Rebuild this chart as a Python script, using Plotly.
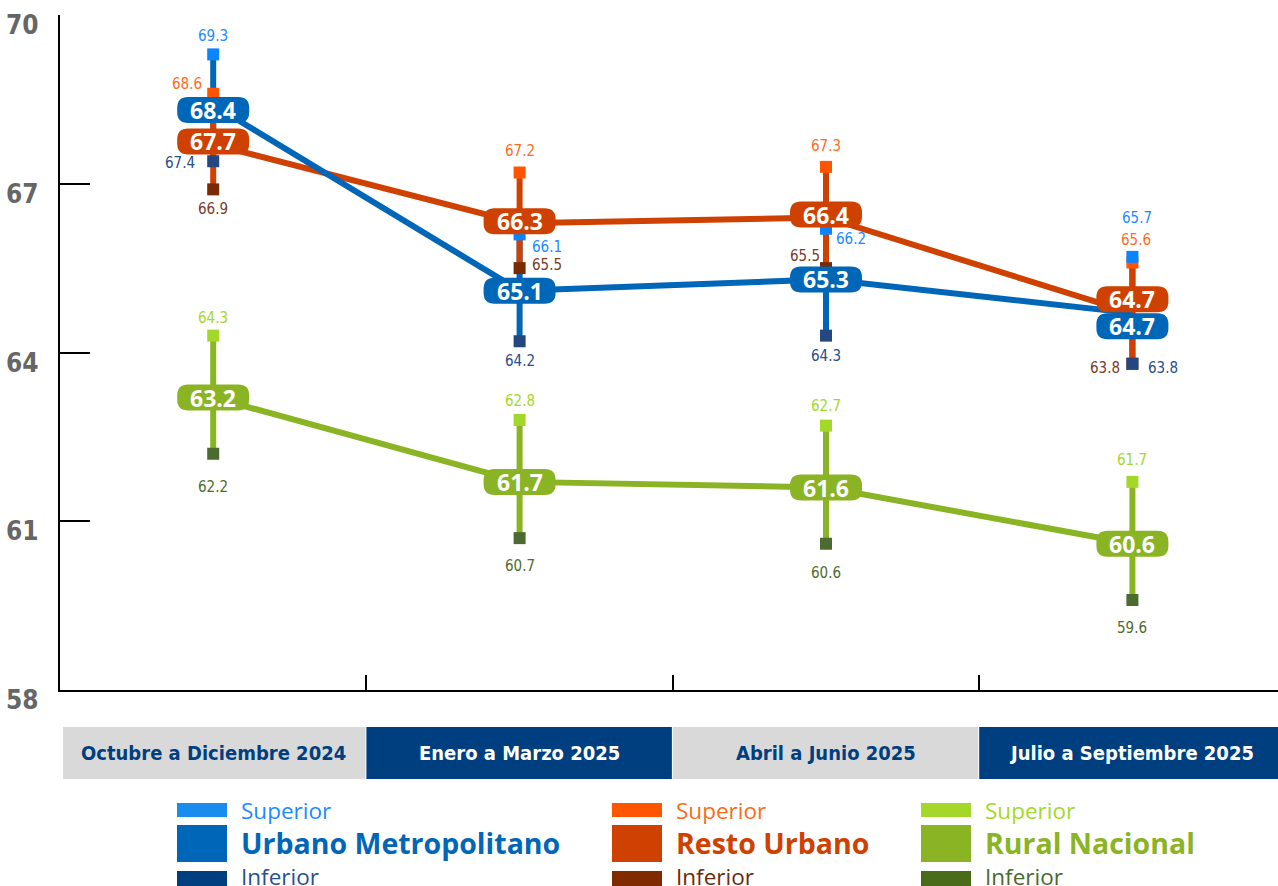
import plotly.graph_objects as go

# ---------------- data ----------------
categories = ["Octubre a Diciembre 2024", "Enero a Marzo 2025",
              "Abril a Junio 2025", "Julio a Septiembre 2025"]
y_ticks = [58, 61, 64, 67, 70]

urbano_mid = [68.4, 65.1, 65.3, 64.7]
urbano_sup = [69.3, 66.1, 66.2, 65.7]
urbano_inf = [67.4, 64.2, 64.3, 63.8]

resto_mid = [67.7, 66.3, 66.4, 64.7]
resto_sup = [68.6, 67.2, 67.3, 65.6]
resto_inf = [66.9, 65.5, 65.5, 63.8]

rural_mid = [63.2, 61.7, 61.6, 60.6]
rural_sup = [64.3, 62.8, 62.7, 61.7]
rural_inf = [62.2, 60.7, 60.6, 59.6]

series_names = ["Urbano Metropolitano", "Resto Urbano", "Rural Nacional"]
legend_sub = ["Superior", "Inferior"]

# ---------------- styles ----------------
W, H = 1278, 886
ML, MT, MR, MB = 60, 15, 0, 196
PX_PER_CAT = 306.4
plot_w = W - ML - MR
x_range = [-0.5, -0.5 + plot_w / PX_PER_CAT]

COND = "DejaVu Sans Condensed"
PILLFONT = "Open Sans"
LEGFONT = "Open Sans"

styles = {
    "urbano": dict(main="#0066b8", sup="#0a84ff", inf="#24477f",
                   sup_txt="#1a8cff", inf_txt="#2a4e8a",
                   leg_sup="#1a8cf0", leg_inf="#003f7f", leg_inf_txt="#2a4f8f"),
    "resto": dict(main="#cf4100", sup="#ff5500", inf="#7a2a00",
                  sup_txt="#ff6a1a", inf_txt="#7a3a2a",
                  leg_sup="#ff5500", leg_inf="#7f2a00", leg_inf_txt="#6a2a10"),
    "rural": dict(main="#8ab424", sup="#a3d82a", inf="#4b6b30",
                  sup_txt="#a3d82a", inf_txt="#4f6b2a",
                  leg_sup="#a3d82a", leg_inf="#4a6b1a", leg_inf_txt="#4a6a2a"),
}

sup_off = {
    "urbano": [(0, -18), (27, 13), (25, 10), (5, -39)],
    "resto": [(-26, -10), (0, -22), (0, -21), (4, -23)],
    "rural": [(0, -18), (0, -19), (0, -20), (0, -22)],
}
inf_off = {
    "urbano": [(-33, 2), (0, 20), (0, 20), (31, 4)],
    "resto": [(0, 20), (27, -3), (-21, -12), (-27, 4)],
    "rural": [(0, 33), (0, 28), (0, 29), (0, 28)],
}
pill_dy = {
    "urbano": [-5, 0, 0, -13],
    "resto": [3, 2, 3, 14],
    "rural": [0, 0, 0, 0],
}

series = {
    "urbano": (urbano_mid, urbano_sup, urbano_inf),
    "resto": (resto_mid, resto_sup, resto_inf),
    "rural": (rural_mid, rural_sup, rural_inf),
}

x = list(range(len(categories)))

fig = go.Figure()

for key in ["urbano", "resto", "rural"]:
    mid, sup, inf = series[key]
    st = styles[key]
    fig.add_trace(go.Scatter(
        x=x, y=mid, mode="markers",
        marker=dict(size=1, color="rgba(0,0,0,0)"),
        error_y=dict(type="data", symmetric=False,
                     array=[s - m for s, m in zip(sup, mid)],
                     arrayminus=[m - i for m, i in zip(mid, inf)],
                     thickness=6, width=0, color=st["main"]),
        hoverinfo="skip", showlegend=False))

for key in ["resto", "rural", "urbano"]:
    mid = series[key][0]
    fig.add_trace(go.Scatter(
        x=x, y=mid, mode="lines",
        line=dict(color=styles[key]["main"], width=6),
        hoverinfo="skip", showlegend=False))

for key in ["resto", "rural", "urbano"]:
    mid, sup, inf = series[key]
    st = styles[key]
    for vals, col in ((sup, st["sup"]), (inf, st["inf"])):
        fig.add_trace(go.Scatter(
            x=x, y=vals, mode="markers",
            marker=dict(symbol="square", size=12, color=col, line=dict(width=0)),
            hoverinfo="skip", showlegend=False))

for key in ["urbano", "resto", "rural"]:
    mid, sup, inf = series[key]
    st = styles[key]
    for i in x:
        for vals, offs, col in ((sup, sup_off[key], st["sup_txt"]),
                                (inf, inf_off[key], st["inf_txt"])):
            dx, dy = offs[i]
            fig.add_annotation(
                x=i, y=vals[i], xref="x", yref="y", text=f"{vals[i]:.1f}",
                showarrow=False, xshift=dx, yshift=-dy,
                font=dict(family=COND, size=15, color=col))


def pill_path(w, h, r, dy):
    x0, x1 = -w / 2, w / 2
    y0, y1 = dy - h / 2, dy + h / 2
    return (f"M{x0 + r},{y0} L{x1 - r},{y0} Q{x1},{y0} {x1},{y0 + r} "
            f"L{x1},{y1 - r} Q{x1},{y1} {x1 - r},{y1} L{x0 + r},{y1} "
            f"Q{x0},{y1} {x0},{y1 - r} L{x0},{y0 + r} Q{x0},{y0} {x0 + r},{y0} Z")


for key in ["resto", "rural", "urbano"]:
    mid = series[key][0]
    st = styles[key]
    for i in x:
        dy = pill_dy[key][i]
        fig.add_shape(type="path", xref="x", yref="y",
                      xsizemode="pixel", ysizemode="pixel",
                      xanchor=i, yanchor=mid[i],
                      path=pill_path(72, 26, 11, dy),
                      fillcolor=st["main"], line=dict(width=0), layer="above")
        fig.add_annotation(x=i, y=mid[i], xref="x", yref="y", text=f"{mid[i]:.1f}",
                           showarrow=False, yshift=dy, borderpad=0,
                           font=dict(family=PILLFONT, size=23, color="white", weight="bold"))

# y tick labels
for v in y_ticks:
    fig.add_annotation(x=0, y=v, xref="paper", yref="y", xanchor="right",
                       yanchor="middle", xshift=-19, yshift=-10, text=str(v),
                       showarrow=False,
                       font=dict(family=COND, size=26, color="#666666", weight="bold"))

# category bands
for i, cat in enumerate(categories):
    dark = i % 2 == 1
    fig.add_shape(type="rect", xref="x", yref="paper", ysizemode="pixel", yanchor=0,
                  x0=max(i - 0.5, -0.49), x1=i + 0.5 - 0.003, y0=-37, y1=-89,
                  fillcolor="#003f7f" if dark else "#d9d9d9", line=dict(width=0),
                  layer="below")
    fig.add_annotation(x=i, y=0, xref="x", yref="paper", yanchor="middle",
                       yshift=-63, text=cat, showarrow=False,
                       font=dict(family=COND, size=20, weight="bold",
                                 color="white" if dark else "#003f7f"))

# legend (drawn manually)
leg_x = [177, 612, 921]
for gx, key, name in zip(leg_x, ["urbano", "resto", "rural"], series_names):
    st = styles[key]
    rows = [
        (803, 817, 810, st["leg_sup"], legend_sub[0], st["sup_txt"], 22.5, "normal"),
        (825, 862, 843, st["main"], name, st["main"], 28.5, "bold"),
        (871, 886, 876, st["leg_inf"], legend_sub[1], st["leg_inf_txt"], 22.5, "normal"),
    ]
    for ytop, ybot, yc, scol, txt, tcol, fs, fw in rows:
        fig.add_shape(type="rect", xref="paper", yref="paper",
                      xsizemode="pixel", ysizemode="pixel", xanchor=0, yanchor=0,
                      x0=gx - ML, x1=gx + 50 - ML,
                      y0=-(ytop - (H - MB)), y1=-(ybot - (H - MB)),
                      fillcolor=scol, line=dict(width=0))
        fig.add_annotation(x=0, y=0, xref="paper", yref="paper",
                           xanchor="left", yanchor="middle",
                           xshift=gx + 62 - ML, yshift=-(yc - (H - MB)),
                           text=txt, showarrow=False,
                           font=dict(family=LEGFONT, size=fs, color=tcol, weight=fw))

fig.update_layout(
    width=W, height=H,
    margin=dict(l=ML, r=MR, t=MT, b=MB, pad=0),
    paper_bgcolor="white", plot_bgcolor="white",
    showlegend=False,
    xaxis=dict(range=x_range, showgrid=False, zeroline=False,
               showline=True, linecolor="black", linewidth=2,
               tickvals=[0.5, 1.5, 2.5], ticks="inside", ticklen=15,
               tickwidth=2, tickcolor="black", showticklabels=False),
    yaxis=dict(range=[58, 70], tickvals=y_ticks, showgrid=False, zeroline=False,
               showline=True, linecolor="black", linewidth=2,
               ticks="inside", ticklen=30, tickwidth=2, tickcolor="black",
               showticklabels=False),
)

fig.write_html("out.html", config={"displayModeBar": False},
               post_script="document.body.style.margin='0';document.body.style.overflow='hidden';")
